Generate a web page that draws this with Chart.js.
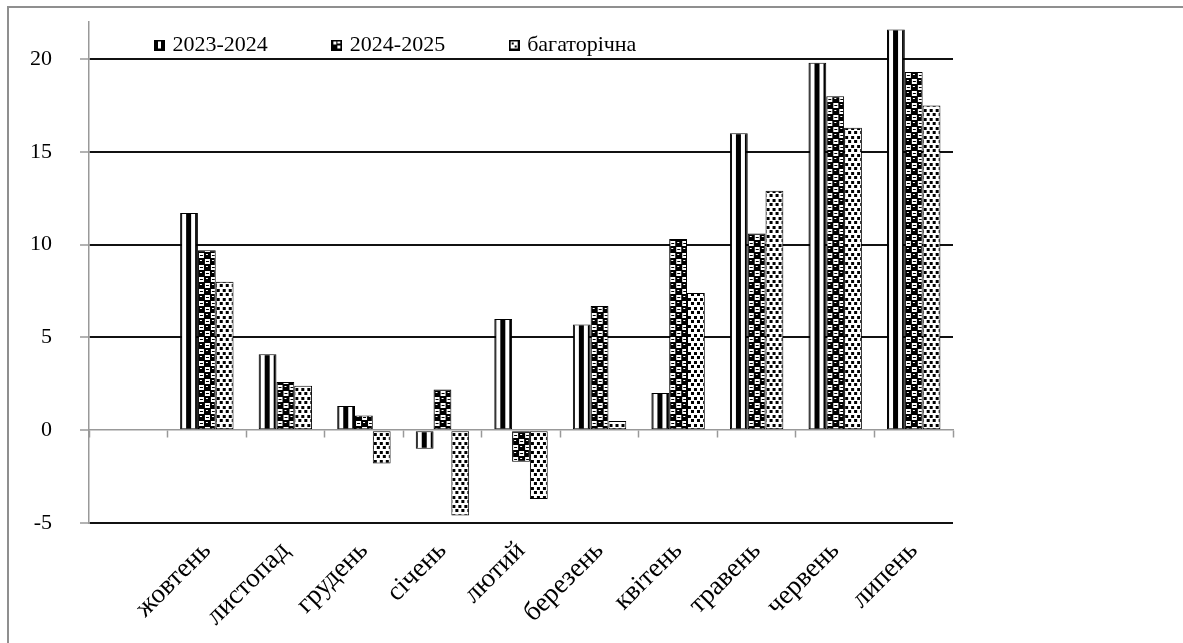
<!DOCTYPE html>
<html>
<head>
<meta charset="utf-8">
<script src="https://cdn.jsdelivr.net/npm/chart.js@4"></script>
<style>
  html, body { margin: 0; padding: 0; background: #fff; overflow: hidden; }
  #wrap { position: relative; width: 1183px; height: 643px; }
  #frame { position: absolute; left: 7px; top: 6px; width: 1200px; height: 700px; border: 2px solid #8f8f8f; pointer-events: none; }
</style>
</head>
<body>
<div id="wrap">
  <canvas id="chart" width="1183" height="643"></canvas>
  <div id="frame"></div>
</div>
<script>
// first slot is left empty, as in the source chart
const months = ['', 'жовтень', 'листопад', 'грудень', 'січень', 'лютий', 'березень', 'квітень', 'травень', 'червень', 'липень'];
const seriesNames = ['2023-2024', '2024-2025', 'багаторічна'];
const values2324 = [null, 11.7, 4.1, 1.3, -1.0, 6.0, 5.7, 2.0, 16.0, 19.8, 21.6];
const values2425 = [null, 9.7, 2.6, 0.8, 2.2, -1.7, 6.7, 10.3, 10.6, 18.0, 19.3];
const valuesLong = [null, 8.0, 2.4, -1.8, -4.6, -3.7, 0.5, 7.4, 12.9, 16.3, 17.5];
const yTicks = [-5, 0, 5, 10, 15, 20];

const CAT = 0.68;
const FONT = 'Liberation Serif';
const LEG_PAD = 67;

function tile(w, h, draw) {
  const c = document.createElement('canvas');
  c.width = w; c.height = h;
  const g = c.getContext('2d');
  g.fillStyle = '#fff';
  g.fillRect(0, 0, w, h);
  g.fillStyle = '#000';
  draw(g);
  return c;
}

const stripeTile = tile(18, 4, g => {
  g.fillRect(0, 0, 2, 4);
  g.fillRect(6, 0, 5, 4);
  g.fillRect(15, 0, 3, 4);
});
const checkTile = tile(12, 12, g => {
  g.fillRect(0, 0, 12, 12);
  g.fillStyle = '#fff';
  g.fillRect(1, 1, 5, 5);
  g.fillRect(7, 7, 5, 5);
  g.fillRect(8, 2, 2, 1);
  g.fillRect(2, 8, 2, 1);
  g.fillStyle = '#000';
  g.fillRect(2, 3, 3, 1);
  g.fillRect(8, 9, 3, 1);
});
const dotTile = tile(6, 9, g => {
  g.fillRect(1, 1, 3, 3);
  g.fillRect(4, 5, 3, 3);
  g.fillRect(-2, 5, 3, 3);
});

function icon(draw) {
  const c = document.createElement('canvas');
  c.width = 11; c.height = 11;
  const g = c.getContext('2d');
  g.fillStyle = '#000';
  g.fillRect(0, 0, 11, 11);
  g.fillStyle = '#fff';
  draw(g);
  return c;
}
const icons = [
  icon(g => g.fillRect(4, 2, 3, 7)),
  icon(g => { g.fillRect(2, 2, 3, 3); g.fillRect(6, 6, 3, 3); g.fillRect(6, 2, 3, 2); }),
  icon(g => { g.fillRect(2, 2, 7, 7); g.fillStyle = '#000'; g.fillRect(3, 3, 2, 2); g.fillRect(6, 6, 2, 2); })
];

function barLeft(ctx) {
  const xs = ctx.chart.scales.x;
  const bw = xs.width / months.length * CAT / 3;
  return xs.getPixelForValue(ctx.dataIndex) - 1.5 * bw + ctx.datasetIndex * bw;
}

function patternFill(t) {
  return function(ctx) {
    const p = ctx.chart.ctx.createPattern(t, 'repeat');
    if (ctx.type === 'data' && ctx.chart.scales.x) {
      p.setTransform(new DOMMatrix().translate(barLeft(ctx), 0));
    }
    return p;
  };
}

// the legend sits inside the plot, over the top grid line
const legendPlace = {
  id: 'legendPlace',
  afterLayout(chart) {
    const lg = chart.legend;
    lg.left = 157.5 - LEG_PAD;
    lg.top = 34 - LEG_PAD;
    lg.right = 1183;
    lg.bottom = lg.top + LEG_PAD + 40;
  }
};

function noPad(scale) {
  scale.paddingTop = 0;
  scale.paddingBottom = 0;
  scale.paddingLeft = 0;
  scale.paddingRight = 0;
}

new Chart(document.getElementById('chart'), {
  type: 'bar',
  data: {
    labels: months,
    datasets: [
      { label: seriesNames[0], data: values2324, backgroundColor: patternFill(stripeTile) },
      { label: seriesNames[1], data: values2425, backgroundColor: patternFill(checkTile) },
      { label: seriesNames[2], data: valuesLong, backgroundColor: patternFill(dotTile) }
    ]
  },
  options: {
    responsive: false,
    animation: false,
    events: [],
    categoryPercentage: CAT,
    barPercentage: 1,
    borderColor: '#000',
    borderWidth: 1,
    borderSkipped: false,
    layout: { padding: { left: 0, right: 230, top: 22 - (32 + LEG_PAD), bottom: 0 } },
    plugins: {
      tooltip: { enabled: false },
      legend: {
        position: 'top',
        align: 'start',
        labels: {
          font: { family: FONT, size: 22 },
          color: '#000',
          usePointStyle: true,
          boxWidth: 4,
          boxHeight: 11,
          padding: LEG_PAD,
          generateLabels(chart) {
            return chart.data.datasets.map((ds, i) => ({
              text: ds.label,
              fillStyle: '#000',
              strokeStyle: '#000',
              lineWidth: 0,
              pointStyle: icons[i],
              fontColor: '#000',
              hidden: false,
              datasetIndex: i
            }));
          }
        }
      }
    },
    scales: {
      x: {
        grid: { display: false },
        border: { display: false },
        ticks: {
          autoSkip: false,
          maxRotation: 45,
          minRotation: 45,
          padding: 4,
          color: '#000',
          font: { family: FONT, size: 27 }
        },
        afterFit(scale) { scale.height = 120; noPad(scale); }
      },
      x2: {
        type: 'category',
        position: { y: 0 },
        offset: true,
        grid: { offset: true, drawOnChartArea: false, drawTicks: true, tickLength: 7, tickColor: '#999', tickWidth: 1.5 },
        border: { display: true, color: '#999', width: 1.5 },
        ticks: { display: false },
        afterFit(scale) { scale.height = 0; noPad(scale); }
      },
      y: {
        min: -5,
        max: 22,
        ticks: {
          stepSize: 5,
          padding: 28,
          color: '#000',
          font: { family: FONT, size: 22 }
        },
        afterBuildTicks(scale) {
          scale.ticks = yTicks.map(v => ({ value: v }));
        },
        grid: {
          color: ctx => (ctx.tick && ctx.tick.value === 0) ? 'rgba(0,0,0,0)' : '#111',
          lineWidth: 2,
          tickColor: '#999',
          tickWidth: 1.5,
          tickLength: 9
        },
        border: { display: true, color: '#999', width: 1.5 },
        afterFit(scale) { scale.width = 89; noPad(scale); }
      }
    }
  },
  plugins: [legendPlace]
});
</script>
</body>
</html>
